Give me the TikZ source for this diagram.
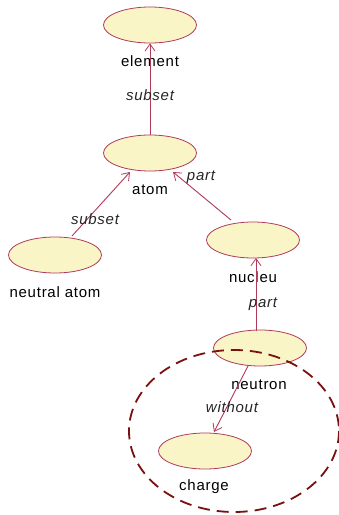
\documentclass[tikz,border=0pt]{standalone}
\usepackage{fontspec}
\setmainfont{Liberation Sans}[LetterSpace=5]
\usetikzlibrary{arrows.meta,shapes.geometric}
\definecolor{edgered}{HTML}{B03A5A}
\definecolor{fillyel}{HTML}{FAF5C6}
\definecolor{dashred}{HTML}{7A1010}
\tikzset{
  concept/.style={ellipse, draw=edgered, fill=fillyel, line width=0.8pt, minimum width=93pt, minimum height=36pt, inner sep=0pt},
  lbl/.style={font=\fontsize{15}{17}\selectfont, text=black, inner sep=0pt},
  rel/.style={font=\itshape\fontsize{15}{17}\selectfont, text=black!85, inner sep=0pt},
  conn/.style={draw=edgered, line width=0.9pt, -{Straight Barb[length=7pt,width=10pt,line width=0.8pt]}},
  group/.style={draw=dashred, line width=1.8pt, dash pattern=on 12pt off 7pt}
}
\begin{document}
\begin{tikzpicture}[x=1pt,y=-1pt]
\useasboundingbox[fill=white] (0,0) rectangle (339,515);
\node[concept] (element) at (150,25) {};
\node[concept] (atom) at (150,153) {};
\node[concept] (neutral) at (55,255) {};
\node[concept] (nucleu) at (253,240) {};
\node[concept] (neutron) at (260,348) {};
\node[concept] (charge) at (205,451) {};
\draw[group] (234,431) ellipse [x radius=105, y radius=81];
\node[lbl] (lelement) at (150,61) {element};
\node[lbl] (latom) at (150,190) {atom};
\node[lbl] (lneutral) at (55,292) {neutral atom};
\node[lbl] (lnucleu) at (253,277) {nucleu};
\node[lbl] (lneutron) at (259,385) {neutron};
\node[lbl] (lcharge) at (204,487) {charge};
\draw[conn] (atom.north) -- (element.south);
\node[rel] (r1) at (150,95) {subset};
\coordinate (na) at (72,236);
\coordinate (at1) at (130,172);
\draw[conn] (na) -- (at1);
\node[rel] (r2) at (95,219) {subset};
\coordinate (nu) at (231,220);
\coordinate (at2) at (173,172);
\draw[conn] (nu) -- (at2);
\node[rel] (r3) at (201,177) {part};
\coordinate (ne) at (256,331);
\coordinate (nub) at (256,258);
\draw[conn] (ne) -- (nub);
\node[rel] (r4) at (263,304) {part};
\coordinate (ne2) at (248,366);
\coordinate (ch) at (214,432);
\draw[conn] (ne2) -- (ch);
\node[rel] (r5) at (232,407) {without};
\end{tikzpicture}
\end{document}
